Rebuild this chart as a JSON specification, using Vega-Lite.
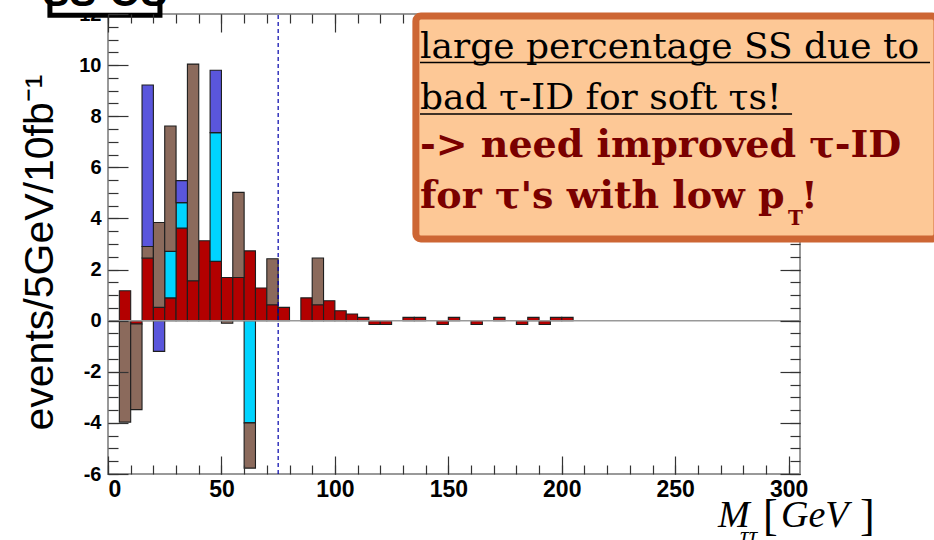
{
  "$schema": "https://vega.github.io/schema/vega-lite/v6.json",
  "width": 692,
  "height": 460,
  "autosize": {"type": "none"},
  "padding": {"left": 108, "top": 14, "right": 134, "bottom": 66},
  "background": "white",
  "config": {
    "view": {"stroke": "#999999", "strokeWidth": 2},
    "axis": {
      "domain": false,
      "grid": false,
      "tickColor": "#333333",
      "tickWidth": 1.2,
      "labelColor": "black",
      "labelFont": "Liberation Sans",
      "labelFontWeight": "bold",
      "title": null
    }
  },
  "datasets": {
    "hist": [
      {"lo": 5, "hi": 10, "v": 1.17, "sample": "A", "k": 1},
      {"lo": 10, "hi": 15, "v": -0.13, "sample": "A", "k": 1},
      {"lo": 15, "hi": 20, "v": 2.45, "sample": "A", "k": 1},
      {"lo": 20, "hi": 25, "v": 0.52, "sample": "A", "k": 1},
      {"lo": 25, "hi": 30, "v": 0.89, "sample": "A", "k": 1},
      {"lo": 30, "hi": 35, "v": 3.62, "sample": "A", "k": 1},
      {"lo": 35, "hi": 40, "v": 1.56, "sample": "A", "k": 1},
      {"lo": 40, "hi": 45, "v": 3.13, "sample": "A", "k": 1},
      {"lo": 45, "hi": 50, "v": 2.32, "sample": "A", "k": 1},
      {"lo": 50, "hi": 55, "v": 1.69, "sample": "A", "k": 1},
      {"lo": 55, "hi": 60, "v": 1.69, "sample": "A", "k": 1},
      {"lo": 60, "hi": 65, "v": 2.73, "sample": "A", "k": 1},
      {"lo": 65, "hi": 70, "v": 1.28, "sample": "A", "k": 1},
      {"lo": 70, "hi": 75, "v": 0.62, "sample": "A", "k": 1},
      {"lo": 75, "hi": 80, "v": 0.52, "sample": "A", "k": 1},
      {"lo": 85, "hi": 90, "v": 0.89, "sample": "A", "k": 1},
      {"lo": 90, "hi": 95, "v": 0.62, "sample": "A", "k": 1},
      {"lo": 95, "hi": 100, "v": 0.78, "sample": "A", "k": 1},
      {"lo": 100, "hi": 105, "v": 0.39, "sample": "A", "k": 1},
      {"lo": 105, "hi": 110, "v": 0.26, "sample": "A", "k": 1},
      {"lo": 110, "hi": 115, "v": 0.13, "sample": "A", "k": 1},
      {"lo": 115, "hi": 120, "v": -0.15, "sample": "A", "k": 1},
      {"lo": 120, "hi": 125, "v": -0.15, "sample": "A", "k": 1},
      {"lo": 130, "hi": 135, "v": 0.13, "sample": "A", "k": 1},
      {"lo": 135, "hi": 140, "v": 0.13, "sample": "A", "k": 1},
      {"lo": 145, "hi": 150, "v": -0.15, "sample": "A", "k": 1},
      {"lo": 150, "hi": 155, "v": 0.13, "sample": "A", "k": 1},
      {"lo": 160, "hi": 165, "v": -0.15, "sample": "A", "k": 1},
      {"lo": 170, "hi": 175, "v": 0.13, "sample": "A", "k": 1},
      {"lo": 180, "hi": 185, "v": -0.15, "sample": "A", "k": 1},
      {"lo": 185, "hi": 190, "v": 0.13, "sample": "A", "k": 1},
      {"lo": 190, "hi": 195, "v": -0.15, "sample": "A", "k": 1},
      {"lo": 195, "hi": 200, "v": 0.13, "sample": "A", "k": 1},
      {"lo": 200, "hi": 205, "v": 0.13, "sample": "A", "k": 1},
      {"lo": 25, "hi": 30, "v": 1.82, "sample": "B", "k": 2},
      {"lo": 30, "hi": 35, "v": 1.0, "sample": "B", "k": 2},
      {"lo": 45, "hi": 50, "v": 5.04, "sample": "B", "k": 2},
      {"lo": 60, "hi": 65, "v": -4.0, "sample": "B", "k": 2},
      {"lo": 5, "hi": 10, "v": -3.97, "sample": "C", "k": 3},
      {"lo": 10, "hi": 15, "v": -3.35, "sample": "C", "k": 3},
      {"lo": 15, "hi": 20, "v": 0.45, "sample": "C", "k": 3},
      {"lo": 20, "hi": 25, "v": 3.32, "sample": "C", "k": 3},
      {"lo": 25, "hi": 30, "v": 4.91, "sample": "C", "k": 3},
      {"lo": 35, "hi": 40, "v": 8.48, "sample": "C", "k": 3},
      {"lo": 50, "hi": 55, "v": -0.1, "sample": "C", "k": 3},
      {"lo": 55, "hi": 60, "v": 3.33, "sample": "C", "k": 3},
      {"lo": 60, "hi": 65, "v": -1.77, "sample": "C", "k": 3},
      {"lo": 70, "hi": 75, "v": 1.8, "sample": "C", "k": 3},
      {"lo": 90, "hi": 95, "v": 1.83, "sample": "C", "k": 3},
      {"lo": 15, "hi": 20, "v": 6.32, "sample": "D", "k": 4},
      {"lo": 20, "hi": 25, "v": -1.2, "sample": "D", "k": 4},
      {"lo": 30, "hi": 35, "v": 0.86, "sample": "D", "k": 4},
      {"lo": 45, "hi": 50, "v": 2.44, "sample": "D", "k": 4}
    ],
    "one": [{}]
  },
  "layer": [
    {
      "data": {"name": "hist"},
      "transform": [
        {"stack": "v", "groupby": ["lo"], "sort": [{"field": "k", "order": "ascending"}], "offset": "zero", "as": ["y0", "y1"]}
      ],
      "mark": {"type": "rect", "stroke": "#1e1e1e", "strokeWidth": 1.1},
      "encoding": {
        "x": {
          "field": "lo", "type": "quantitative",
          "scale": {"domain": [0, 305], "nice": false, "zero": false},
          "axis": {"orient": "bottom", "values": [0, 50, 100, 150, 200, 250, 300], "tickSize": -18, "labels": false, "zindex": 1}
        },
        "x2": {"field": "hi"},
        "y": {
          "field": "y0", "type": "quantitative",
          "scale": {"domain": [-6, 12], "nice": false, "zero": false},
          "axis": {"orient": "left", "values": [-6, -4, -2, 0, 2, 4, 6, 8, 10, 12], "tickSize": -20, "labels": false, "zindex": 1}
        },
        "y2": {"field": "y1"},
        "color": {
          "field": "sample", "type": "nominal", "legend": null,
          "scale": {"domain": ["A", "B", "C", "D"], "range": ["#b30000", "#00d4ff", "#8b6a5c", "#5a56dc"]}
        }
      }
    },
    {
      "data": {"name": "one"},
      "mark": {"type": "rule", "color": "#999999", "strokeWidth": 1.5},
      "encoding": {
        "x": {
          "datum": 0, "type": "quantitative",
          "scale": {"domain": [0, 305], "nice": false, "zero": false},
          "axis": {"orient": "bottom", "values": [0, 10, 20, 30, 40, 50, 60, 70, 80, 90, 100, 110, 120, 130, 140, 150, 160, 170, 180, 190, 200, 210, 220, 230, 240, 250, 260, 270, 280, 290, 300], "tickSize": -9, "labels": false, "zindex": 1}
        },
        "x2": {"datum": 305},
        "y": {
          "datum": 0, "type": "quantitative",
          "scale": {"domain": [-6, 12], "nice": false, "zero": false},
          "axis": {"orient": "left", "values": [-6, -5.5, -5, -4.5, -4, -3.5, -3, -2.5, -2, -1.5, -1, -0.5, 0, 0.5, 1, 1.5, 2, 2.5, 3, 3.5, 4, 4.5, 5, 5.5, 6, 6.5, 7, 7.5, 8, 8.5, 9, 9.5, 10, 10.5, 11, 11.5, 12], "tickSize": -10, "labels": false, "zindex": 1}
        }
      }
    },
    {
      "data": {"name": "one"},
      "mark": {"type": "rule", "color": "#0000aa", "strokeWidth": 1.2, "strokeDash": [4, 3]},
      "encoding": {
        "x": {
          "datum": 75, "type": "quantitative",
          "scale": {"domain": [0, 305], "nice": false, "zero": false},
          "axis": {"orient": "top", "values": [0, 50, 100], "tickSize": -18, "labels": false, "zindex": 1}
        },
        "y": {
          "datum": -6, "type": "quantitative",
          "scale": {"domain": [-6, 12], "nice": false, "zero": false},
          "axis": {"orient": "right", "values": [-6, -4, -2, 0, 2], "tickSize": -20, "labels": false, "zindex": 1}
        },
        "y2": {"datum": 12}
      }
    },
    {
      "data": {"name": "one"},
      "mark": {"type": "rect", "fill": "#fdc896", "stroke": "#cd6634", "strokeWidth": 7, "cornerRadius": 5},
      "encoding": {
        "x": {
          "datum": 135.7, "type": "quantitative",
          "scale": {"domain": [0, 305], "nice": false, "zero": false},
          "axis": {"orient": "top", "values": [0, 10, 20, 30, 40, 50, 60, 70, 80, 90, 100, 110, 120, 130], "tickSize": -9, "labels": false, "zindex": 1}
        },
        "x2": {"datum": 365.4},
        "y": {
          "datum": 3.2, "type": "quantitative",
          "scale": {"domain": [-6, 12], "nice": false, "zero": false},
          "axis": {"orient": "right", "values": [-6, -5.5, -5, -4.5, -4, -3.5, -3, -2.5, -2, -1.5, -1, -0.5, 0, 0.5, 1, 1.5, 2, 2.5, 3], "tickSize": -10, "labels": false, "zindex": 1}
        },
        "y2": {"datum": 11.92}
      }
    },
    {
      "data": {"name": "one"},
      "mark": {"type": "rect", "fill": "white", "stroke": "black", "strokeWidth": 5},
      "encoding": {
        "x": {
          "datum": -25.6, "type": "quantitative",
          "scale": {"domain": [0, 305], "nice": false, "zero": false},
          "axis": {"orient": "bottom", "values": [0, 50, 100, 150, 200, 250, 300], "ticks": false, "labelPadding": 4, "labelFontSize": 23, "labelExpr": "'' + datum.value", "zindex": 0}
        },
        "x2": {"datum": 22.9},
        "y": {
          "datum": 11.95, "type": "quantitative",
          "scale": {"domain": [-6, 12], "nice": false, "zero": false},
          "axis": {
            "orient": "left", "values": [-6, -4, -2, 0, 2, 4, 6, 8, 10, 12], "ticks": false, "labelPadding": 7, "labelFontSize": 20,
            "labelExpr": "'' + datum.value", "zindex": 0,
            "title": "events/5GeV/10fb⁻¹", "titleFont": "Liberation Sans", "titleFontSize": 41, "titleFontWeight": "normal",
            "titleColor": "black", "titleAngle": -90, "titleX": -56, "titleY": 416, "titleAlign": "left", "titleBaseline": "alphabetic"
          }
        },
        "y2": {"datum": 14.5}
      }
    },
    {
      "data": {"name": "one"},
      "mark": {"type": "text", "text": "SS-OS", "font": "Liberation Sans", "fontSize": 40, "fontWeight": "bold", "color": "black", "align": "center", "baseline": "alphabetic"},
      "encoding": {"x": {"datum": -1.3, "type": "quantitative", "axis": null}, "y": {"datum": 12.3, "type": "quantitative", "axis": null}}
    },
    {
      "data": {"name": "one"},
      "mark": {"type": "text", "text": "large percentage SS due to", "font": "DejaVu Serif", "fontSize": 36, "color": "black", "align": "left", "baseline": "alphabetic"},
      "encoding": {"x": {"datum": 137.5, "type": "quantitative", "axis": null}, "y": {"datum": 10.26, "type": "quantitative", "axis": null}}
    },
    {
      "data": {"name": "one"},
      "mark": {"type": "text", "text": "bad τ-ID for soft τs!", "font": "DejaVu Serif", "fontSize": 36, "color": "black", "align": "left", "baseline": "alphabetic"},
      "encoding": {"x": {"datum": 137.5, "type": "quantitative", "axis": null}, "y": {"datum": 8.28, "type": "quantitative", "axis": null}}
    },
    {
      "data": {"name": "one"},
      "mark": {"type": "rule", "color": "black", "strokeWidth": 1.5},
      "encoding": {"x": {"datum": 137.5, "type": "quantitative", "axis": null}, "x2": {"datum": 362.3}, "y": {"datum": 10.1, "type": "quantitative", "axis": null}}
    },
    {
      "data": {"name": "one"},
      "mark": {"type": "rule", "color": "black", "strokeWidth": 1.5},
      "encoding": {"x": {"datum": 137.5, "type": "quantitative", "axis": null}, "x2": {"datum": 301.5}, "y": {"datum": 8.09, "type": "quantitative", "axis": null}}
    },
    {
      "data": {"name": "one"},
      "mark": {"type": "text", "text": "-> need improved τ-ID", "font": "DejaVu Serif", "fontSize": 38, "fontWeight": "bold", "color": "#7a0000", "align": "left", "baseline": "alphabetic"},
      "encoding": {"x": {"datum": 137.5, "type": "quantitative", "axis": null}, "y": {"datum": 6.4, "type": "quantitative", "axis": null}}
    },
    {
      "data": {"name": "one"},
      "mark": {"type": "text", "text": "for τ's with low p", "font": "DejaVu Serif", "fontSize": 38, "fontWeight": "bold", "color": "#7a0000", "align": "left", "baseline": "alphabetic"},
      "encoding": {"x": {"datum": 137.5, "type": "quantitative", "axis": null}, "y": {"datum": 4.41, "type": "quantitative", "axis": null}}
    },
    {
      "data": {"name": "one"},
      "mark": {"type": "text", "text": "T", "font": "DejaVu Serif", "fontSize": 20, "fontWeight": "bold", "color": "#7a0000", "align": "left", "baseline": "alphabetic"},
      "encoding": {"x": {"datum": 299.7, "type": "quantitative", "axis": null}, "y": {"datum": 3.74, "type": "quantitative", "axis": null}}
    },
    {
      "data": {"name": "one"},
      "mark": {"type": "text", "text": "!", "font": "DejaVu Serif", "fontSize": 38, "fontWeight": "bold", "color": "#7a0000", "align": "left", "baseline": "alphabetic"},
      "encoding": {"x": {"datum": 305.4, "type": "quantitative", "axis": null}, "y": {"datum": 4.41, "type": "quantitative", "axis": null}}
    },
    {
      "data": {"name": "one"},
      "mark": {"type": "text", "text": "M", "font": "Liberation Serif", "fontSize": 38, "fontStyle": "italic", "color": "black", "align": "left", "baseline": "alphabetic"},
      "encoding": {"x": {"datum": 268.9, "type": "quantitative", "axis": null}, "y": {"datum": -8.07, "type": "quantitative", "axis": null}}
    },
    {
      "data": {"name": "one"},
      "mark": {"type": "text", "text": "ττ", "font": "Liberation Serif", "fontSize": 24, "fontStyle": "italic", "color": "black", "align": "left", "baseline": "alphabetic"},
      "encoding": {"x": {"datum": 278.6, "type": "quantitative", "axis": null}, "y": {"datum": -8.7, "type": "quantitative", "axis": null}}
    },
    {
      "data": {"name": "one"},
      "mark": {"type": "text", "text": "[", "font": "Liberation Serif", "fontSize": 44, "color": "black", "align": "left", "baseline": "alphabetic"},
      "encoding": {"x": {"datum": 288.7, "type": "quantitative", "axis": null}, "y": {"datum": -8.2, "type": "quantitative", "axis": null}}
    },
    {
      "data": {"name": "one"},
      "mark": {"type": "text", "text": "GeV", "font": "Liberation Serif", "fontSize": 38, "fontStyle": "italic", "color": "black", "align": "left", "baseline": "alphabetic"},
      "encoding": {"x": {"datum": 296.6, "type": "quantitative", "axis": null}, "y": {"datum": -8.07, "type": "quantitative", "axis": null}}
    },
    {
      "data": {"name": "one"},
      "mark": {"type": "text", "text": "]", "font": "Liberation Serif", "fontSize": 44, "color": "black", "align": "left", "baseline": "alphabetic"},
      "encoding": {"x": {"datum": 331.4, "type": "quantitative", "axis": null}, "y": {"datum": -8.2, "type": "quantitative", "axis": null}}
    }
  ],
  "resolve": {"axis": {"x": "independent", "y": "independent"}}
}
